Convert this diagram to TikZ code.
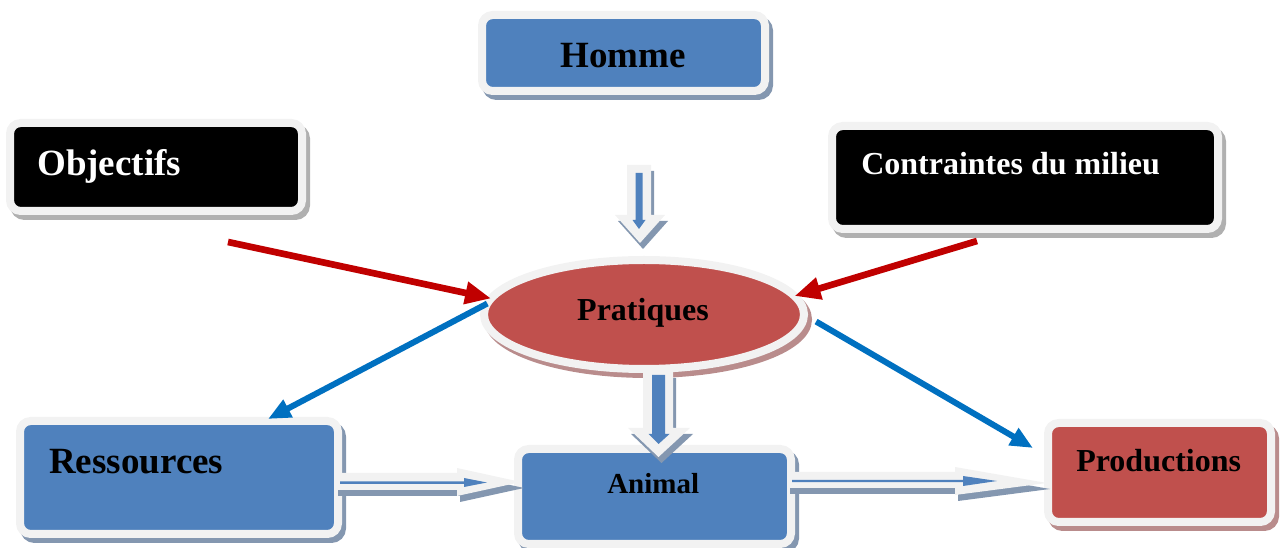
\documentclass[tikz,border=0pt]{standalone}
\usepackage{fontspec}
\setmainfont{Liberation Serif}
\usetikzlibrary{shapes.geometric,arrows.meta,calc}
\definecolor{boxblue}{HTML}{4F81BD}
\definecolor{boxred}{HTML}{C0504D}
\definecolor{framecol}{HTML}{F2F2F2}
\definecolor{shblue}{HTML}{8497B0}
\definecolor{shred}{HTML}{B98C8C}
\definecolor{shgray}{HTML}{B0B0B0}
\definecolor{arrred}{HTML}{C00000}
\definecolor{arrblue}{HTML}{0070C0}
\tikzset{
  boxshadow/.style={preaction={draw=#1, fill=#1, line width=6pt, transform canvas={shift={(3pt,-3.75pt)}}}},
  arrshadow/.style={preaction={fill=#1, transform canvas={shift={(2.25pt,-4.5pt)}}}},
  framebox/.style={rectangle, rounded corners=8pt, draw=framecol, line width=6pt, inner sep=0pt, outer sep=0pt},
  txt/.style={font=\bfseries, inner sep=0pt},
  big/.style={txt, font=\bfseries\fontsize{27.75pt}{30pt}\selectfont},
  mid/.style={txt, font=\bfseries\fontsize{24pt}{26pt}\selectfont},
  small/.style={txt, font=\bfseries\fontsize{21.75pt}{24pt}\selectfont},
  redarr/.style={draw=arrred, line width=5pt, -{Triangle[length=19.5pt,width=16pt]}},
  bluearr/.style={draw=arrblue, line width=4.5pt, -{Triangle[length=17pt,width=14pt]}},
}
\begin{document}
\begin{tikzpicture}[x=0.75pt,y=-0.75pt]
\useasboundingbox (0,0) rectangle (1283,548);

% boxes
\node[framebox, boxshadow=shblue, fill=boxblue, minimum width=212.25pt, minimum height=57pt] (homme) at (623.5,53) {};
\node[framebox, boxshadow=shgray, fill=black, minimum width=219pt, minimum height=66pt] (obj) at (156,167) {};
\node[framebox, boxshadow=shgray, fill=black, minimum width=289.5pt, minimum height=77.25pt] (contr) at (1025,177.5) {};
\node[framebox, boxshadow=shblue, fill=boxblue, minimum width=238.5pt, minimum height=84.75pt] (res) at (179,477.5) {};
\node[framebox, boxshadow=shblue, fill=boxblue, minimum width=204.75pt, minimum height=71.25pt] (anim) at (654.5,496.5) {};
\node[framebox, boxshadow=shred, fill=boxred, minimum width=167.25pt, minimum height=74.25pt] (prod) at (1159.5,472.5) {};
\node[ellipse, draw=framecol, line width=6pt, fill=boxred, boxshadow=shred, inner sep=0pt, outer sep=0pt, minimum width=240pt, minimum height=81.75pt] (prat) at (644,314.5) {};

% texts
\node[big, anchor=base] (tHomme) at (623,68) {Homme};
\node[big, anchor=base west, text=white] (tObj) at (37,176) {Objectifs};
\node[mid, anchor=base west, text=white] (tContr) at (861,175) {Contraintes du milieu};
\node[big, anchor=base west] (tRes) at (49,474) {Ressources};
\node[mid, anchor=base] (tPrat) at (643,321) {Pratiques};
\node[small, anchor=base west] (tAnim) at (607,494) {Animal};
\node[mid, anchor=base west] (tProd) at (1076,472) {Productions};

% block arrows
% Homme -> Pratiques
\fill[framecol, arrshadow=shblue] (627,165) -- (651,165) -- (651,215) -- (665,215) -- (640,243) -- (615,215) -- (627,215) -- cycle;
\fill[boxblue] (635.5,173) -- (642.5,173) -- (642.5,220) -- (645.5,220) -- (639,229) -- (632.5,220) -- (635.5,220) -- cycle;
% Pratiques -> Animal
\fill[framecol, arrshadow=shblue] (643,372) -- (673,372) -- (673,428) -- (690,428) -- (658.5,457) -- (628,428) -- (643,428) -- cycle;
\fill[boxblue] (652,375) -- (665,375) -- (665,434) -- (669.5,434) -- (658.5,444) -- (648.5,434) -- (652,434) -- cycle;
% Ressources -> Animal
\fill[framecol, arrshadow=shblue] (335,473) -- (457,473) -- (457,468) -- (521,482) -- (457,496) -- (457,490) -- (335,490) -- cycle;
\fill[boxblue] (340,481.5) -- (464,481.5) -- (464,478) -- (487,482.5) -- (464,487) -- (464,484) -- (340,484) -- cycle;
% Animal -> Productions
\fill[framecol, arrshadow=shblue] (787,472) -- (955,472) -- (955,467) -- (1047,483) -- (955,495) -- (955,488) -- (787,488) -- cycle;
\fill[boxblue] (792,479.8) -- (963,479.8) -- (963,476) -- (997,481) -- (963,486) -- (963,482.2) -- (792,482.2) -- cycle;

% thin arrows
\coordinate (oStart) at (228,242);
\coordinate (cStart) at (977,241);
\draw[redarr] (oStart) -- (prat.174);
\draw[redarr] (cStart) -- (prat.7);
\draw[bluearr] (prat.176) -- ($(res.north)+(89,-2)$);
\draw[bluearr, shorten <=10.5pt] (prat.east) -- ($(prod.west)+(-15,-24.5)$);
\end{tikzpicture}
\end{document}
